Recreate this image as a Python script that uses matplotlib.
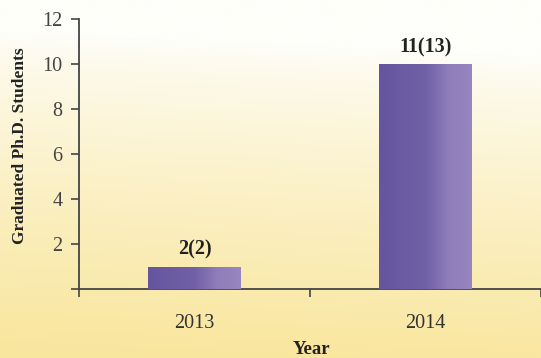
import numpy as np
import matplotlib
matplotlib.use("Agg")
import matplotlib.pyplot as plt
from matplotlib.colors import LinearSegmentedColormap

# Graduated Ph.D. students per year
years = ["2013", "2014"]
bar_heights = [1, 10]
bar_labels = ["2(2)", "11(13)"]
y_ticks = [2, 4, 6, 8, 10, 12]

plt.rcParams["font.family"] = ["Liberation Serif", "DejaVu Serif"]

W, H = 541, 358
fig = plt.figure(figsize=(W / 100, H / 100), dpi=100)

# Soft background: white at the top fading to pale yellow
bg = fig.add_axes([0, 0, 1, 1], zorder=-10)
bg.axis("off")
h, w = 200, 300
yy = np.linspace(0, 1, h)[:, None]
xx = np.linspace(0, 1, w)[None, :]
t = np.clip((yy - 0.12) / 0.88 + 0.08 * (0.5 - xx), 0, 1) ** 0.8
top = np.array([254, 254, 250]) / 255
bottom = np.array([249, 230, 158]) / 255
img = top[None, None, :] * (1 - t[..., None]) + bottom[None, None, :] * t[..., None]
bg.imshow(img, aspect="auto", extent=[0, 1, 0, 1], origin="upper")
bg.set_xlim(0, 1)
bg.set_ylim(0, 1)

ax = fig.add_axes([79 / W, 1 - 289 / H, 1 - 79 / W, (289 - 19) / H])
ax.patch.set_alpha(0)

x = np.arange(len(years))
bars = ax.bar(x, bar_heights, width=0.4, color="#6f5fa6", zorder=2)

# Horizontal purple shading inside each bar
cmap = LinearSegmentedColormap.from_list(
    "barshade", ["#6555a0", "#6b5ba3", "#7060a7", "#8e7eba", "#9786bf"])
grad = np.linspace(0, 1, 256)[None, :]
for b in bars:
    x0, y0 = b.get_x(), b.get_y()
    im = ax.imshow(grad, cmap=cmap, aspect="auto", zorder=3,
                   extent=[x0, x0 + b.get_width(), y0, y0 + b.get_height()])
    im.set_clip_path(b)

for xi, hi, lab in zip(x, bar_heights, bar_labels):
    ax.text(xi, hi + 0.3, lab, ha="center", va="bottom",
            fontsize=14.5, fontweight="bold", color="#222222")

ax.set_xlim(-0.5, 1.5)
ax.set_ylim(0, 12)
ax.set_yticks([0] + y_ticks)
ax.set_yticklabels([""] + [str(v) for v in y_ticks])
ax.set_xticks([-0.5, 0.5, 1.5])
ax.set_xticklabels([])
ax.set_xticks(x, minor=True)
ax.set_xticklabels(years, minor=True)
ax.tick_params(axis="x", which="minor", length=0, pad=18, labelsize=14.5,
               labelcolor="#333333")
ax.tick_params(axis="x", which="major", length=6, width=1.2, color="#444444")
ax.tick_params(axis="y", length=6, width=1.2, color="#444444", labelsize=14.5,
               labelcolor="#444444", pad=6)

for side in ["top", "right"]:
    ax.spines[side].set_visible(False)
for side in ["left", "bottom"]:
    ax.spines[side].set_color("#444444")
    ax.spines[side].set_linewidth(1.3)

fig.text(311 / W, 1 - 349 / H, "Year", ha="center", va="center",
         fontsize=13.5, fontweight="bold", color="#222222")
fig.text(20 / W, 1 - 146 / H, "Graduated Ph.D. Students", ha="center",
         va="center", rotation=90, fontsize=12.5, fontweight="bold",
         color="#222222")

fig.savefig("out.png", dpi=100)
